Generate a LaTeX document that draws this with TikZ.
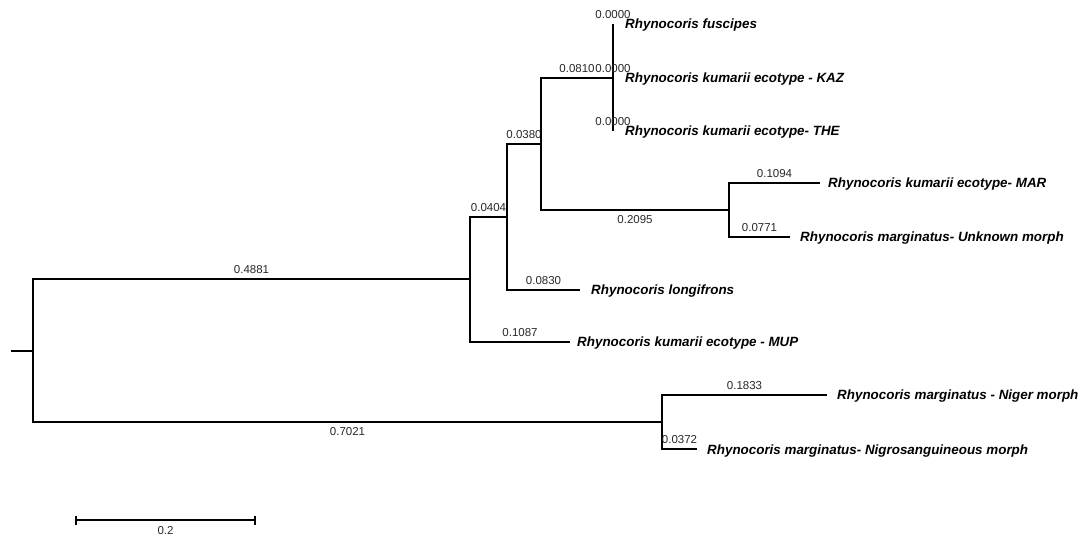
\documentclass[tikz,border=0pt]{standalone}
\usepackage{fontspec}
\setmainfont{Liberation Sans}
\definecolor{labelgray}{HTML}{282828}
\newcommand{\taxfont}{\fontsize{13.4}{16}\selectfont\bfseries\itshape}
\newcommand{\numfont}{\fontsize{11.5}{13}\selectfont}
\tikzset{
  branch/.style={line width=1.4pt, black},
  scalebar/.style={line width=2pt, black},
  blab/.style={font=\numfont, text=labelgray, anchor=base, inner sep=0pt},
  above lab/.style={blab, pos=0.75, yshift=5pt},
  below lab/.style={blab, pos=0.75, yshift=-14pt},
  taxon/.style={font=\taxfont, anchor=base west, inner sep=0pt, text=black}
}
\begin{document}
\begin{tikzpicture}[x=1pt,y=-1pt]
\useasboundingbox (0,0) rectangle (1080,537);
% internal nodes and leaf ends
\coordinate (stub) at (11,351);
\coordinate (R) at (33,351);
\coordinate (A) at (470,279);
\coordinate (F) at (662,422);
\coordinate (B) at (507,217);
\coordinate (mup) at (570,342);
\coordinate (C) at (541,144);
\coordinate (lon) at (580,290);
\coordinate (E) at (613,78);
\coordinate (D) at (729,210);
\coordinate (fus) at (613,24);
\coordinate (the) at (613,131);
\coordinate (mar) at (820,183);
\coordinate (unk) at (790,237);
\coordinate (nig) at (827,395);
\coordinate (nigro) at (697,449);
% branches
\draw[branch] (stub) -- (R);
\draw[branch] (R) |- (A) node[above lab] {0.4881};
\draw[branch] (R) |- (F) node[below lab] {0.7021};
\draw[branch] (A) |- (B) node[above lab] {0.0404};
\draw[branch] (A) |- (mup) node[above lab] {0.1087};
\draw[branch] (B) |- (C) node[above lab] {0.0380};
\draw[branch] (B) |- (lon) node[above lab] {0.0830};
\draw[branch] (C) |- (E) node[above lab] {0.0810};
\draw[branch] (C) |- (D) node[below lab] {0.2095};
\draw[branch] (E) -- (fus);
\draw[branch] (E) -- (the);
\draw[branch] (D) |- (mar) node[above lab] {0.1094};
\draw[branch] (D) |- (unk) node[above lab] {0.0771};
\draw[branch] (F) |- (nig) node[above lab] {0.1833};
\draw[branch] (F) |- (nigro) node[above lab] {0.0372};
% zero-length branch labels
\node[blab] (zf) at ([yshift=5pt]fus) {0.0000};
\node[blab] (zk) at ([yshift=5pt]E) {0.0000};
\node[blab] (zt) at ([yshift=5pt]the) {0.0000};
% taxa
\node[taxon] (tfus) at ([xshift=12pt,yshift=-5pt]fus) {Rhynocoris fuscipes};
\node[taxon] (tkaz) at ([xshift=12pt,yshift=-5pt]E) {Rhynocoris kumarii ecotype - KAZ};
\node[taxon] (tthe) at ([xshift=12pt,yshift=-5pt]the) {Rhynocoris kumarii ecotype- THE};
\node[taxon] (tmar) at ([xshift=8pt,yshift=-5pt]mar) {Rhynocoris kumarii ecotype- MAR};
\node[taxon] (tunk) at ([xshift=10pt,yshift=-5pt]unk) {Rhynocoris marginatus- Unknown morph};
\node[taxon] (tlon) at ([xshift=11pt,yshift=-5pt]lon) {Rhynocoris longifrons};
\node[taxon] (tmup) at ([xshift=7pt,yshift=-5pt]mup) {Rhynocoris kumarii ecotype - MUP};
\node[taxon] (tnig) at ([xshift=10pt,yshift=-5pt]nig) {Rhynocoris marginatus - Niger morph};
\node[taxon] (tnigro) at ([xshift=10pt,yshift=-5pt]nigro) {Rhynocoris marginatus- Nigrosanguineous morph};
% scale bar
\coordinate (sb1) at (76,520);
\coordinate (sb2) at (255,520);
\draw[scalebar] (sb1) -- (sb2) node[blab, pos=0.5, yshift=-14pt] (sblab) {0.2};
\draw[scalebar] ([yshift=4.5pt]sb1) -- ([yshift=-4.5pt]sb1);
\draw[scalebar] ([yshift=4.5pt]sb2) -- ([yshift=-4.5pt]sb2);
\end{tikzpicture}
\end{document}
